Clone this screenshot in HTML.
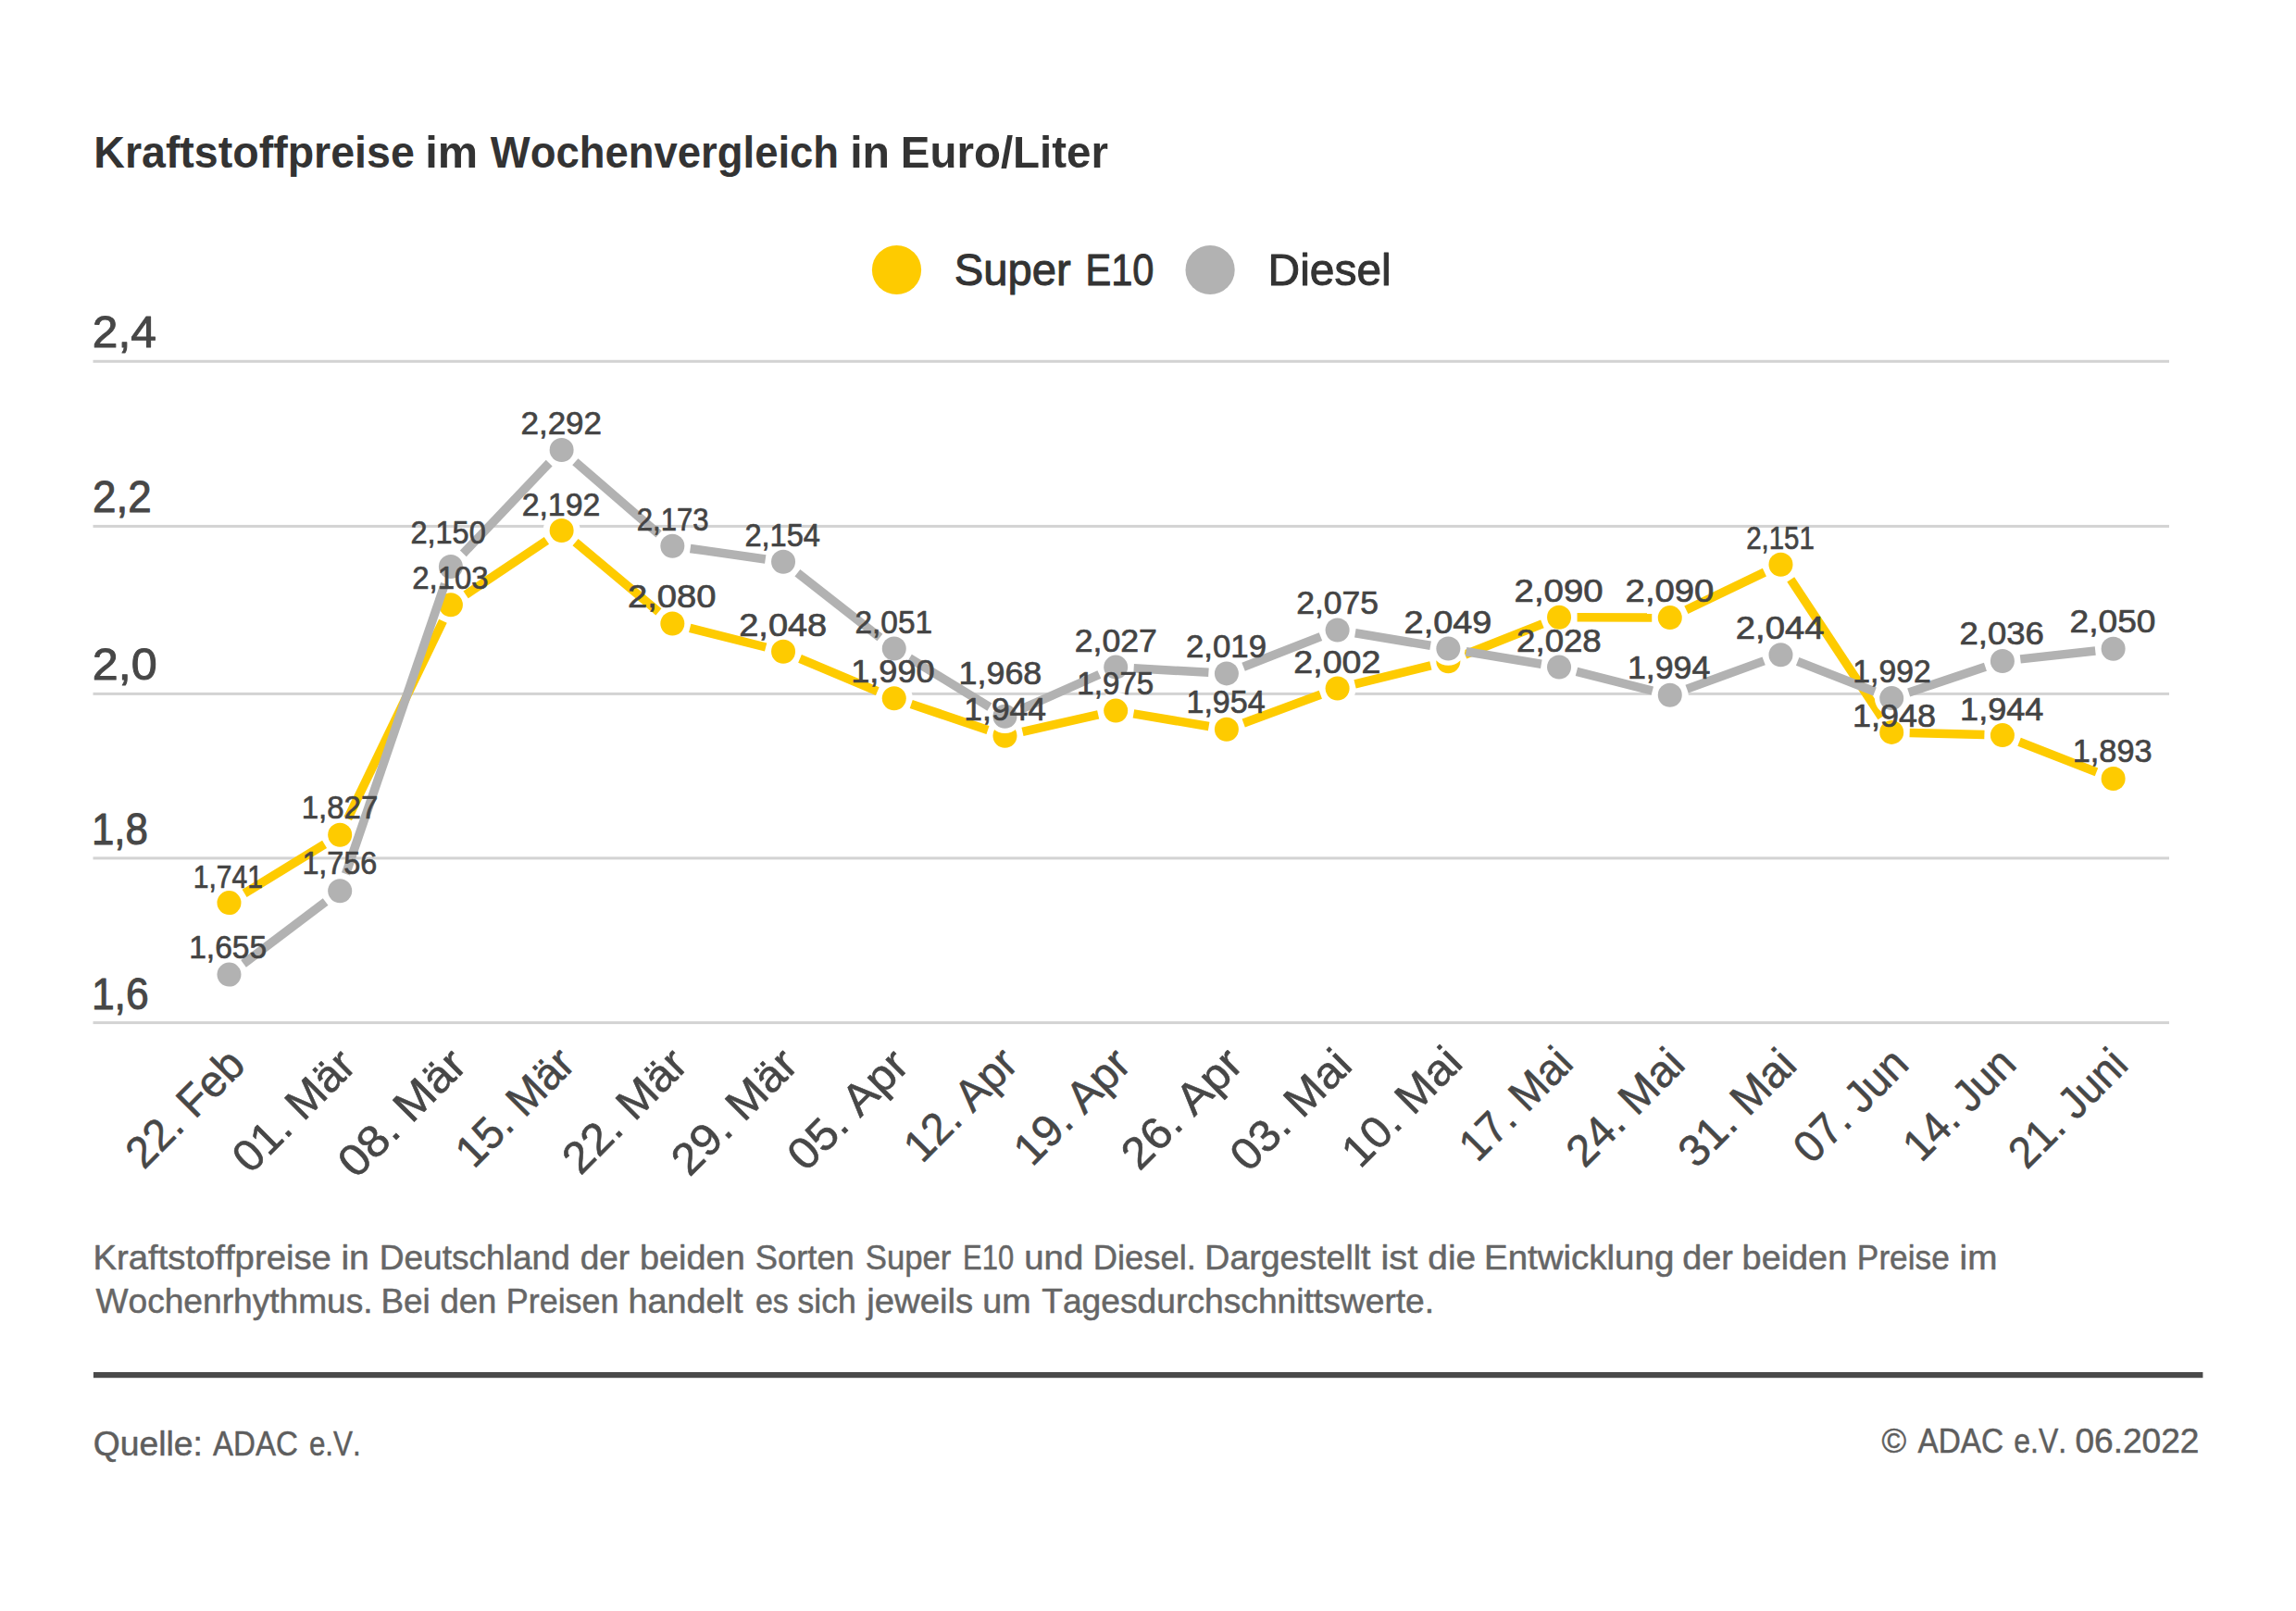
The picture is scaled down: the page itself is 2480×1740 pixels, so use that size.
<!DOCTYPE html>
<html lang="de"><head><meta charset="utf-8"><title>Kraftstoffpreise im Wochenvergleich</title>
<style>
html,body{margin:0;padding:0;background:#fff;}
body{width:2480px;height:1740px;overflow:hidden;}
svg{display:block;}
svg text{font-family:'Liberation Sans', Arial, sans-serif;font-kerning:none;}
</style></head>
<body>
<svg width="2480" height="1740" viewBox="0 0 2480 1740">
<rect width="2480" height="1740" fill="#fff"/>
<text x="101.29" y="181.00" font-size="49.00" font-weight="bold" fill="#333333" textLength="346.50" lengthAdjust="spacingAndGlyphs">Kraftstoffpreise</text>
<text x="459.29" y="181.00" font-size="49.00" font-weight="bold" fill="#333333" textLength="56.93" lengthAdjust="spacingAndGlyphs">im</text>
<text x="529.76" y="181.00" font-size="49.00" font-weight="bold" fill="#333333" textLength="376.36" lengthAdjust="spacingAndGlyphs">Wochenvergleich</text>
<text x="918.13" y="181.00" font-size="49.00" font-weight="bold" fill="#333333" textLength="42.86" lengthAdjust="spacingAndGlyphs">in</text>
<text x="972.83" y="181.00" font-size="49.00" font-weight="bold" fill="#333333" textLength="224.09" lengthAdjust="spacingAndGlyphs">Euro/Liter</text>
<circle cx="968.5" cy="291.5" r="26.6" fill="#FECB00"/>
<circle cx="1307.1" cy="291.5" r="26.6" fill="#B2B2B2"/>
<text x="1030.76" y="308.30" font-size="48.40" fill="#333333" stroke="#333333" stroke-width="1.0" stroke-linejoin="round" textLength="126.03" lengthAdjust="spacingAndGlyphs">Super</text>
<text x="1172.39" y="308.30" font-size="48.40" fill="#333333" stroke="#333333" stroke-width="1.0" stroke-linejoin="round" textLength="74.04" lengthAdjust="spacingAndGlyphs">E10</text>
<text x="1369.57" y="308.40" font-size="48.40" fill="#333333" stroke="#333333" stroke-width="1.0" stroke-linejoin="round" textLength="133.14" lengthAdjust="spacingAndGlyphs">Diesel</text>
<rect x="100.5" y="388.80" width="2242.5" height="3" fill="#D3D3D3"/>
<rect x="100.5" y="566.90" width="2242.5" height="3" fill="#D3D3D3"/>
<rect x="100.5" y="747.90" width="2242.5" height="3" fill="#D3D3D3"/>
<rect x="100.5" y="925.40" width="2242.5" height="3" fill="#D3D3D3"/>
<rect x="100.5" y="1103.10" width="2242.5" height="3" fill="#D3D3D3"/>
<text x="99.81" y="375.30" font-size="48.00" fill="#474747" stroke="#474747" stroke-width="1.0" stroke-linejoin="round" textLength="68.95" lengthAdjust="spacingAndGlyphs">2,4</text>
<text x="100.00" y="552.90" font-size="48.00" fill="#474747" stroke="#474747" stroke-width="1.0" stroke-linejoin="round" textLength="63.60" lengthAdjust="spacingAndGlyphs">2,2</text>
<text x="99.78" y="734.00" font-size="48.00" fill="#474747" stroke="#474747" stroke-width="1.0" stroke-linejoin="round" textLength="69.79" lengthAdjust="spacingAndGlyphs">2,0</text>
<text x="98.96" y="911.60" font-size="48.00" fill="#474747" stroke="#474747" stroke-width="1.0" stroke-linejoin="round" textLength="60.94" lengthAdjust="spacingAndGlyphs">1,8</text>
<text x="98.92" y="1089.50" font-size="48.00" fill="#474747" stroke="#474747" stroke-width="1.0" stroke-linejoin="round" textLength="61.73" lengthAdjust="spacingAndGlyphs">1,6</text>
<circle cx="247.47" cy="975.10" r="20.0" fill="#fff"/>
<circle cx="367.19" cy="901.70" r="20.0" fill="#fff"/>
<circle cx="486.90" cy="653.20" r="20.0" fill="#fff"/>
<circle cx="606.62" cy="573.00" r="20.0" fill="#fff"/>
<circle cx="726.33" cy="673.50" r="20.0" fill="#fff"/>
<circle cx="846.05" cy="703.80" r="20.0" fill="#fff"/>
<circle cx="965.76" cy="754.20" r="20.0" fill="#fff"/>
<circle cx="1085.47" cy="794.70" r="20.0" fill="#fff"/>
<circle cx="1205.19" cy="767.60" r="20.0" fill="#fff"/>
<circle cx="1324.90" cy="787.70" r="20.0" fill="#fff"/>
<circle cx="1444.62" cy="743.50" r="20.0" fill="#fff"/>
<circle cx="1564.34" cy="714.20" r="20.0" fill="#fff"/>
<circle cx="1684.05" cy="666.70" r="20.0" fill="#fff"/>
<circle cx="1803.77" cy="667.10" r="20.0" fill="#fff"/>
<circle cx="1923.48" cy="609.70" r="20.0" fill="#fff"/>
<circle cx="2043.20" cy="790.90" r="20.0" fill="#fff"/>
<circle cx="2162.91" cy="794.10" r="20.0" fill="#fff"/>
<circle cx="2282.62" cy="841.00" r="20.0" fill="#fff"/>
<circle cx="247.47" cy="1052.60" r="20.0" fill="#fff"/>
<circle cx="367.19" cy="962.30" r="20.0" fill="#fff"/>
<circle cx="486.90" cy="612.00" r="20.0" fill="#fff"/>
<circle cx="606.62" cy="486.00" r="20.0" fill="#fff"/>
<circle cx="726.33" cy="589.70" r="20.0" fill="#fff"/>
<circle cx="846.05" cy="606.70" r="20.0" fill="#fff"/>
<circle cx="965.76" cy="700.50" r="20.0" fill="#fff"/>
<circle cx="1085.47" cy="773.80" r="20.0" fill="#fff"/>
<circle cx="1205.19" cy="720.60" r="20.0" fill="#fff"/>
<circle cx="1324.90" cy="727.40" r="20.0" fill="#fff"/>
<circle cx="1444.62" cy="680.50" r="20.0" fill="#fff"/>
<circle cx="1564.34" cy="700.50" r="20.0" fill="#fff"/>
<circle cx="1684.05" cy="720.50" r="20.0" fill="#fff"/>
<circle cx="1803.77" cy="750.80" r="20.0" fill="#fff"/>
<circle cx="1923.48" cy="707.20" r="20.0" fill="#fff"/>
<circle cx="2043.20" cy="754.10" r="20.0" fill="#fff"/>
<circle cx="2162.91" cy="714.00" r="20.0" fill="#fff"/>
<circle cx="2282.62" cy="700.80" r="20.0" fill="#fff"/>
<line x1="264.09" y1="964.91" x2="350.56" y2="911.89" stroke="#FECB00" stroke-width="9.5"/>
<line x1="375.65" y1="884.13" x2="478.44" y2="670.77" stroke="#FECB00" stroke-width="9.5"/>
<line x1="503.10" y1="642.35" x2="590.41" y2="583.85" stroke="#FECB00" stroke-width="9.5"/>
<line x1="621.55" y1="585.54" x2="711.40" y2="660.96" stroke="#FECB00" stroke-width="9.5"/>
<line x1="745.23" y1="678.28" x2="827.14" y2="699.02" stroke="#FECB00" stroke-width="9.5"/>
<line x1="864.02" y1="711.37" x2="947.79" y2="746.63" stroke="#FECB00" stroke-width="9.5"/>
<line x1="984.23" y1="760.45" x2="1067.00" y2="788.45" stroke="#FECB00" stroke-width="9.5"/>
<line x1="1104.49" y1="790.39" x2="1186.17" y2="771.91" stroke="#FECB00" stroke-width="9.5"/>
<line x1="1224.42" y1="770.83" x2="1305.67" y2="784.47" stroke="#FECB00" stroke-width="9.5"/>
<line x1="1343.20" y1="780.95" x2="1426.33" y2="750.25" stroke="#FECB00" stroke-width="9.5"/>
<line x1="1463.56" y1="738.86" x2="1545.39" y2="718.84" stroke="#FECB00" stroke-width="9.5"/>
<line x1="1582.46" y1="707.01" x2="1665.92" y2="673.89" stroke="#FECB00" stroke-width="9.5"/>
<line x1="1703.55" y1="666.77" x2="1784.27" y2="667.03" stroke="#FECB00" stroke-width="9.5"/>
<line x1="1821.35" y1="658.67" x2="1905.90" y2="618.13" stroke="#FECB00" stroke-width="9.5"/>
<line x1="1934.23" y1="625.97" x2="2032.45" y2="774.63" stroke="#FECB00" stroke-width="9.5"/>
<line x1="2062.69" y1="791.42" x2="2143.42" y2="793.58" stroke="#FECB00" stroke-width="9.5"/>
<line x1="2181.07" y1="801.21" x2="2264.47" y2="833.89" stroke="#FECB00" stroke-width="9.5"/>
<circle cx="247.47" cy="975.10" r="18.3" fill="#fff"/>
<circle cx="247.47" cy="975.10" r="13.0" fill="#FECB00"/>
<circle cx="367.19" cy="901.70" r="18.3" fill="#fff"/>
<circle cx="367.19" cy="901.70" r="13.0" fill="#FECB00"/>
<circle cx="486.90" cy="653.20" r="18.3" fill="#fff"/>
<circle cx="486.90" cy="653.20" r="13.0" fill="#FECB00"/>
<circle cx="606.62" cy="573.00" r="18.3" fill="#fff"/>
<circle cx="606.62" cy="573.00" r="13.0" fill="#FECB00"/>
<circle cx="726.33" cy="673.50" r="18.3" fill="#fff"/>
<circle cx="726.33" cy="673.50" r="13.0" fill="#FECB00"/>
<circle cx="846.05" cy="703.80" r="18.3" fill="#fff"/>
<circle cx="846.05" cy="703.80" r="13.0" fill="#FECB00"/>
<circle cx="965.76" cy="754.20" r="18.3" fill="#fff"/>
<circle cx="965.76" cy="754.20" r="13.0" fill="#FECB00"/>
<circle cx="1085.47" cy="794.70" r="18.3" fill="#fff"/>
<circle cx="1085.47" cy="794.70" r="13.0" fill="#FECB00"/>
<circle cx="1205.19" cy="767.60" r="18.3" fill="#fff"/>
<circle cx="1205.19" cy="767.60" r="13.0" fill="#FECB00"/>
<circle cx="1324.90" cy="787.70" r="18.3" fill="#fff"/>
<circle cx="1324.90" cy="787.70" r="13.0" fill="#FECB00"/>
<circle cx="1444.62" cy="743.50" r="18.3" fill="#fff"/>
<circle cx="1444.62" cy="743.50" r="13.0" fill="#FECB00"/>
<circle cx="1564.34" cy="714.20" r="18.3" fill="#fff"/>
<circle cx="1564.34" cy="714.20" r="13.0" fill="#FECB00"/>
<circle cx="1684.05" cy="666.70" r="18.3" fill="#fff"/>
<circle cx="1684.05" cy="666.70" r="13.0" fill="#FECB00"/>
<circle cx="1803.77" cy="667.10" r="18.3" fill="#fff"/>
<circle cx="1803.77" cy="667.10" r="13.0" fill="#FECB00"/>
<circle cx="1923.48" cy="609.70" r="18.3" fill="#fff"/>
<circle cx="1923.48" cy="609.70" r="13.0" fill="#FECB00"/>
<circle cx="2043.20" cy="790.90" r="18.3" fill="#fff"/>
<circle cx="2043.20" cy="790.90" r="13.0" fill="#FECB00"/>
<circle cx="2162.91" cy="794.10" r="18.3" fill="#fff"/>
<circle cx="2162.91" cy="794.10" r="13.0" fill="#FECB00"/>
<circle cx="2282.62" cy="841.00" r="18.3" fill="#fff"/>
<circle cx="2282.62" cy="841.00" r="13.0" fill="#FECB00"/>
<line x1="263.04" y1="1040.86" x2="351.62" y2="974.04" stroke="#B2B2B2" stroke-width="9.5"/>
<line x1="373.49" y1="943.85" x2="480.59" y2="630.45" stroke="#B2B2B2" stroke-width="9.5"/>
<line x1="500.33" y1="597.86" x2="593.18" y2="500.14" stroke="#B2B2B2" stroke-width="9.5"/>
<line x1="621.35" y1="498.77" x2="711.59" y2="576.93" stroke="#B2B2B2" stroke-width="9.5"/>
<line x1="745.64" y1="592.44" x2="826.74" y2="603.96" stroke="#B2B2B2" stroke-width="9.5"/>
<line x1="861.39" y1="618.73" x2="950.41" y2="688.47" stroke="#B2B2B2" stroke-width="9.5"/>
<line x1="982.39" y1="710.68" x2="1068.84" y2="763.62" stroke="#B2B2B2" stroke-width="9.5"/>
<line x1="1103.29" y1="765.88" x2="1187.37" y2="728.52" stroke="#B2B2B2" stroke-width="9.5"/>
<line x1="1224.66" y1="721.71" x2="1305.44" y2="726.29" stroke="#B2B2B2" stroke-width="9.5"/>
<line x1="1343.06" y1="720.29" x2="1426.46" y2="687.61" stroke="#B2B2B2" stroke-width="9.5"/>
<line x1="1463.85" y1="683.71" x2="1545.10" y2="697.29" stroke="#B2B2B2" stroke-width="9.5"/>
<line x1="1583.57" y1="703.71" x2="1664.82" y2="717.29" stroke="#B2B2B2" stroke-width="9.5"/>
<line x1="1702.95" y1="725.28" x2="1784.86" y2="746.02" stroke="#B2B2B2" stroke-width="9.5"/>
<line x1="1822.09" y1="744.13" x2="1905.16" y2="713.87" stroke="#B2B2B2" stroke-width="9.5"/>
<line x1="1941.64" y1="714.31" x2="2025.04" y2="746.99" stroke="#B2B2B2" stroke-width="9.5"/>
<line x1="2061.69" y1="747.91" x2="2144.42" y2="720.19" stroke="#B2B2B2" stroke-width="9.5"/>
<line x1="2182.29" y1="711.86" x2="2263.24" y2="702.94" stroke="#B2B2B2" stroke-width="9.5"/>
<circle cx="247.47" cy="1052.60" r="18.3" fill="#fff"/>
<circle cx="247.47" cy="1052.60" r="13.0" fill="#B2B2B2"/>
<circle cx="367.19" cy="962.30" r="18.3" fill="#fff"/>
<circle cx="367.19" cy="962.30" r="13.0" fill="#B2B2B2"/>
<circle cx="486.90" cy="612.00" r="18.3" fill="#fff"/>
<circle cx="486.90" cy="612.00" r="13.0" fill="#B2B2B2"/>
<circle cx="606.62" cy="486.00" r="18.3" fill="#fff"/>
<circle cx="606.62" cy="486.00" r="13.0" fill="#B2B2B2"/>
<circle cx="726.33" cy="589.70" r="18.3" fill="#fff"/>
<circle cx="726.33" cy="589.70" r="13.0" fill="#B2B2B2"/>
<circle cx="846.05" cy="606.70" r="18.3" fill="#fff"/>
<circle cx="846.05" cy="606.70" r="13.0" fill="#B2B2B2"/>
<circle cx="965.76" cy="700.50" r="18.3" fill="#fff"/>
<circle cx="965.76" cy="700.50" r="13.0" fill="#B2B2B2"/>
<circle cx="1085.47" cy="773.80" r="18.3" fill="#fff"/>
<circle cx="1085.47" cy="773.80" r="13.0" fill="#B2B2B2"/>
<circle cx="1205.19" cy="720.60" r="18.3" fill="#fff"/>
<circle cx="1205.19" cy="720.60" r="13.0" fill="#B2B2B2"/>
<circle cx="1324.90" cy="727.40" r="18.3" fill="#fff"/>
<circle cx="1324.90" cy="727.40" r="13.0" fill="#B2B2B2"/>
<circle cx="1444.62" cy="680.50" r="18.3" fill="#fff"/>
<circle cx="1444.62" cy="680.50" r="13.0" fill="#B2B2B2"/>
<circle cx="1564.34" cy="700.50" r="18.3" fill="#fff"/>
<circle cx="1564.34" cy="700.50" r="13.0" fill="#B2B2B2"/>
<circle cx="1684.05" cy="720.50" r="18.3" fill="#fff"/>
<circle cx="1684.05" cy="720.50" r="13.0" fill="#B2B2B2"/>
<circle cx="1803.77" cy="750.80" r="18.3" fill="#fff"/>
<circle cx="1803.77" cy="750.80" r="13.0" fill="#B2B2B2"/>
<circle cx="1923.48" cy="707.20" r="18.3" fill="#fff"/>
<circle cx="1923.48" cy="707.20" r="13.0" fill="#B2B2B2"/>
<circle cx="2043.20" cy="754.10" r="18.3" fill="#fff"/>
<circle cx="2043.20" cy="754.10" r="13.0" fill="#B2B2B2"/>
<circle cx="2162.91" cy="714.00" r="18.3" fill="#fff"/>
<circle cx="2162.91" cy="714.00" r="13.0" fill="#B2B2B2"/>
<circle cx="2282.62" cy="700.80" r="18.3" fill="#fff"/>
<circle cx="2282.62" cy="700.80" r="13.0" fill="#B2B2B2"/>
<text x="208.76" y="958.50" font-size="35.10" fill="#444444" stroke="#444444" stroke-width="0.7" stroke-linejoin="round" textLength="75.15" lengthAdjust="spacingAndGlyphs">1,741</text>
<text x="204.19" y="1034.90" font-size="35.10" fill="#444444" stroke="#444444" stroke-width="0.7" stroke-linejoin="round" textLength="83.96" lengthAdjust="spacingAndGlyphs">1,655</text>
<text x="325.63" y="884.30" font-size="35.10" fill="#444444" stroke="#444444" stroke-width="0.7" stroke-linejoin="round" textLength="82.68" lengthAdjust="spacingAndGlyphs">1,827</text>
<text x="326.38" y="944.20" font-size="35.10" fill="#444444" stroke="#444444" stroke-width="0.7" stroke-linejoin="round" textLength="80.99" lengthAdjust="spacingAndGlyphs">1,756</text>
<text x="443.42" y="586.70" font-size="35.10" fill="#444444" stroke="#444444" stroke-width="0.7" stroke-linejoin="round" textLength="81.30" lengthAdjust="spacingAndGlyphs">2,150</text>
<text x="445.29" y="636.00" font-size="35.10" fill="#444444" stroke="#444444" stroke-width="0.7" stroke-linejoin="round" textLength="82.40" lengthAdjust="spacingAndGlyphs">2,103</text>
<text x="562.49" y="469.30" font-size="35.10" fill="#444444" stroke="#444444" stroke-width="0.7" stroke-linejoin="round" textLength="87.52" lengthAdjust="spacingAndGlyphs">2,292</text>
<text x="563.65" y="556.90" font-size="35.10" fill="#444444" stroke="#444444" stroke-width="0.7" stroke-linejoin="round" textLength="84.70" lengthAdjust="spacingAndGlyphs">2,192</text>
<text x="687.79" y="572.70" font-size="35.10" fill="#444444" stroke="#444444" stroke-width="0.7" stroke-linejoin="round" textLength="77.73" lengthAdjust="spacingAndGlyphs">2,173</text>
<text x="678.03" y="656.30" font-size="35.10" fill="#444444" stroke="#444444" stroke-width="0.7" stroke-linejoin="round" textLength="95.51" lengthAdjust="spacingAndGlyphs">2,080</text>
<text x="804.41" y="589.70" font-size="35.10" fill="#444444" stroke="#444444" stroke-width="0.7" stroke-linejoin="round" textLength="81.60" lengthAdjust="spacingAndGlyphs">2,154</text>
<text x="798.24" y="687.00" font-size="35.10" fill="#444444" stroke="#444444" stroke-width="0.7" stroke-linejoin="round" textLength="94.96" lengthAdjust="spacingAndGlyphs">2,048</text>
<text x="923.47" y="683.80" font-size="35.10" fill="#444444" stroke="#444444" stroke-width="0.7" stroke-linejoin="round" textLength="83.61" lengthAdjust="spacingAndGlyphs">2,051</text>
<text x="919.20" y="737.30" font-size="35.10" fill="#444444" stroke="#444444" stroke-width="0.7" stroke-linejoin="round" textLength="90.36" lengthAdjust="spacingAndGlyphs">1,990</text>
<text x="1035.52" y="738.70" font-size="35.10" fill="#444444" stroke="#444444" stroke-width="0.7" stroke-linejoin="round" textLength="89.79" lengthAdjust="spacingAndGlyphs">1,968</text>
<text x="1041.35" y="777.90" font-size="35.10" fill="#444444" stroke="#444444" stroke-width="0.7" stroke-linejoin="round" textLength="88.64" lengthAdjust="spacingAndGlyphs">1,944</text>
<text x="1160.76" y="703.60" font-size="35.10" fill="#444444" stroke="#444444" stroke-width="0.7" stroke-linejoin="round" textLength="89.18" lengthAdjust="spacingAndGlyphs">2,027</text>
<text x="1163.33" y="750.00" font-size="35.10" fill="#444444" stroke="#444444" stroke-width="0.7" stroke-linejoin="round" textLength="82.92" lengthAdjust="spacingAndGlyphs">1,975</text>
<text x="1281.00" y="710.10" font-size="35.10" fill="#444444" stroke="#444444" stroke-width="0.7" stroke-linejoin="round" textLength="86.99" lengthAdjust="spacingAndGlyphs">2,019</text>
<text x="1281.46" y="770.20" font-size="35.10" fill="#444444" stroke="#444444" stroke-width="0.7" stroke-linejoin="round" textLength="85.19" lengthAdjust="spacingAndGlyphs">1,954</text>
<text x="1400.17" y="663.10" font-size="35.10" fill="#444444" stroke="#444444" stroke-width="0.7" stroke-linejoin="round" textLength="88.77" lengthAdjust="spacingAndGlyphs">2,075</text>
<text x="1397.36" y="727.10" font-size="35.10" fill="#444444" stroke="#444444" stroke-width="0.7" stroke-linejoin="round" textLength="93.98" lengthAdjust="spacingAndGlyphs">2,002</text>
<text x="1516.64" y="683.80" font-size="35.10" fill="#444444" stroke="#444444" stroke-width="0.7" stroke-linejoin="round" textLength="94.80" lengthAdjust="spacingAndGlyphs">2,049</text>
<text x="1635.62" y="649.70" font-size="35.10" fill="#444444" stroke="#444444" stroke-width="0.7" stroke-linejoin="round" textLength="96.03" lengthAdjust="spacingAndGlyphs">2,090</text>
<text x="1638.11" y="703.50" font-size="35.10" fill="#444444" stroke="#444444" stroke-width="0.7" stroke-linejoin="round" textLength="91.63" lengthAdjust="spacingAndGlyphs">2,028</text>
<text x="1755.63" y="649.70" font-size="35.10" fill="#444444" stroke="#444444" stroke-width="0.7" stroke-linejoin="round" textLength="95.72" lengthAdjust="spacingAndGlyphs">2,090</text>
<text x="1757.93" y="733.30" font-size="35.10" fill="#444444" stroke="#444444" stroke-width="0.7" stroke-linejoin="round" textLength="89.37" lengthAdjust="spacingAndGlyphs">1,994</text>
<text x="1886.17" y="592.90" font-size="35.10" fill="#444444" stroke="#444444" stroke-width="0.7" stroke-linejoin="round" textLength="73.62" lengthAdjust="spacingAndGlyphs">2,151</text>
<text x="1874.83" y="690.10" font-size="35.10" fill="#444444" stroke="#444444" stroke-width="0.7" stroke-linejoin="round" textLength="95.54" lengthAdjust="spacingAndGlyphs">2,044</text>
<text x="2001.28" y="737.20" font-size="35.10" fill="#444444" stroke="#444444" stroke-width="0.7" stroke-linejoin="round" textLength="84.36" lengthAdjust="spacingAndGlyphs">1,992</text>
<text x="2001.11" y="785.00" font-size="35.10" fill="#444444" stroke="#444444" stroke-width="0.7" stroke-linejoin="round" textLength="89.90" lengthAdjust="spacingAndGlyphs">1,948</text>
<text x="2116.51" y="696.40" font-size="35.10" fill="#444444" stroke="#444444" stroke-width="0.7" stroke-linejoin="round" textLength="91.34" lengthAdjust="spacingAndGlyphs">2,036</text>
<text x="2117.10" y="778.00" font-size="35.10" fill="#444444" stroke="#444444" stroke-width="0.7" stroke-linejoin="round" textLength="90.20" lengthAdjust="spacingAndGlyphs">1,944</text>
<text x="2235.58" y="683.10" font-size="35.10" fill="#444444" stroke="#444444" stroke-width="0.7" stroke-linejoin="round" textLength="92.81" lengthAdjust="spacingAndGlyphs">2,050</text>
<text x="2238.74" y="823.40" font-size="35.10" fill="#444444" stroke="#444444" stroke-width="0.7" stroke-linejoin="round" textLength="85.82" lengthAdjust="spacingAndGlyphs">1,893</text>
<text x="267.10" y="1152.80" font-size="48.0" fill="#474747" stroke="#474747" stroke-width="0.6" stroke-linejoin="round" text-anchor="end" textLength="157.78" lengthAdjust="spacingAndGlyphs" transform="rotate(-45 267.10 1152.80)">22. Feb</text>
<text x="386.75" y="1153.00" font-size="48.0" fill="#474747" stroke="#474747" stroke-width="0.6" stroke-linejoin="round" text-anchor="end" textLength="164.14" lengthAdjust="spacingAndGlyphs" transform="rotate(-45 386.75 1153.00)">01. Mär</text>
<text x="506.35" y="1152.65" font-size="48.0" fill="#474747" stroke="#474747" stroke-width="0.6" stroke-linejoin="round" text-anchor="end" textLength="171.84" lengthAdjust="spacingAndGlyphs" transform="rotate(-45 506.35 1152.65)">08. Mär</text>
<text x="623.35" y="1151.50" font-size="48.0" fill="#474747" stroke="#474747" stroke-width="0.6" stroke-linejoin="round" text-anchor="end" textLength="157.94" lengthAdjust="spacingAndGlyphs" transform="rotate(-45 623.35 1151.50)">15. Mär</text>
<text x="745.25" y="1152.20" font-size="48.0" fill="#474747" stroke="#474747" stroke-width="0.6" stroke-linejoin="round" text-anchor="end" textLength="167.24" lengthAdjust="spacingAndGlyphs" transform="rotate(-45 745.25 1152.20)">22. Mär</text>
<text x="864.20" y="1152.35" font-size="48.0" fill="#474747" stroke="#474747" stroke-width="0.6" stroke-linejoin="round" text-anchor="end" textLength="169.04" lengthAdjust="spacingAndGlyphs" transform="rotate(-45 864.20 1152.35)">29. Mär</text>
<text x="983.95" y="1153.00" font-size="48.0" fill="#474747" stroke="#474747" stroke-width="0.6" stroke-linejoin="round" text-anchor="end" textLength="160.72" lengthAdjust="spacingAndGlyphs" transform="rotate(-45 983.95 1153.00)">05. Apr</text>
<text x="1101.75" y="1151.60" font-size="48.0" fill="#474747" stroke="#474747" stroke-width="0.6" stroke-linejoin="round" text-anchor="end" textLength="149.62" lengthAdjust="spacingAndGlyphs" transform="rotate(-45 1101.75 1151.60)">12. Apr</text>
<text x="1223.67" y="1152.12" font-size="48.0" fill="#474747" stroke="#474747" stroke-width="0.6" stroke-linejoin="round" text-anchor="end" textLength="153.92" lengthAdjust="spacingAndGlyphs" transform="rotate(-45 1223.67 1152.12)">19. Apr</text>
<text x="1344.85" y="1151.70" font-size="48.0" fill="#474747" stroke="#474747" stroke-width="0.6" stroke-linejoin="round" text-anchor="end" textLength="161.22" lengthAdjust="spacingAndGlyphs" transform="rotate(-45 1344.85 1151.70)">26. Apr</text>
<text x="1462.75" y="1153.00" font-size="48.0" fill="#474747" stroke="#474747" stroke-width="0.6" stroke-linejoin="round" text-anchor="end" textLength="161.59" lengthAdjust="spacingAndGlyphs" transform="rotate(-45 1462.75 1153.00)">03. Mai</text>
<text x="1582.00" y="1150.30" font-size="48.0" fill="#474747" stroke="#474747" stroke-width="0.6" stroke-linejoin="round" text-anchor="end" textLength="159.79" lengthAdjust="spacingAndGlyphs" transform="rotate(-45 1582.00 1150.30)">10. Mai</text>
<text x="1701.50" y="1150.90" font-size="48.0" fill="#474747" stroke="#474747" stroke-width="0.6" stroke-linejoin="round" text-anchor="end" textLength="149.49" lengthAdjust="spacingAndGlyphs" transform="rotate(-45 1701.50 1150.90)">17. Mai</text>
<text x="1822.18" y="1152.12" font-size="48.0" fill="#474747" stroke="#474747" stroke-width="0.6" stroke-linejoin="round" text-anchor="end" textLength="156.39" lengthAdjust="spacingAndGlyphs" transform="rotate(-45 1822.18 1152.12)">24. Mai</text>
<text x="1942.90" y="1152.70" font-size="48.0" fill="#474747" stroke="#474747" stroke-width="0.6" stroke-linejoin="round" text-anchor="end" textLength="156.29" lengthAdjust="spacingAndGlyphs" transform="rotate(-45 1942.90 1152.70)">31. Mai</text>
<text x="2063.85" y="1151.95" font-size="48.0" fill="#474747" stroke="#474747" stroke-width="0.6" stroke-linejoin="round" text-anchor="end" textLength="150.93" lengthAdjust="spacingAndGlyphs" transform="rotate(-45 2063.85 1151.95)">07. Jun</text>
<text x="2180.10" y="1151.70" font-size="48.0" fill="#474747" stroke="#474747" stroke-width="0.6" stroke-linejoin="round" text-anchor="end" textLength="148.13" lengthAdjust="spacingAndGlyphs" transform="rotate(-45 2180.10 1151.70)">14. Jun</text>
<text x="2300.95" y="1152.50" font-size="48.0" fill="#474747" stroke="#474747" stroke-width="0.6" stroke-linejoin="round" text-anchor="end" textLength="157.95" lengthAdjust="spacingAndGlyphs" transform="rotate(-45 2300.95 1152.50)">21. Juni</text>
<text x="100.51" y="1371.20" font-size="36.80" fill="#666666" stroke="#666666" stroke-width="0.5" stroke-linejoin="round" textLength="257.34" lengthAdjust="spacingAndGlyphs">Kraftstoffpreise</text>
<text x="368.43" y="1371.20" font-size="36.80" fill="#666666" stroke="#666666" stroke-width="0.5" stroke-linejoin="round" textLength="30.46" lengthAdjust="spacingAndGlyphs">in</text>
<text x="409.71" y="1371.20" font-size="36.80" fill="#666666" stroke="#666666" stroke-width="0.5" stroke-linejoin="round" textLength="206.13" lengthAdjust="spacingAndGlyphs">Deutschland</text>
<text x="626.70" y="1371.20" font-size="36.80" fill="#666666" stroke="#666666" stroke-width="0.5" stroke-linejoin="round" textLength="53.47" lengthAdjust="spacingAndGlyphs">der</text>
<text x="691.01" y="1371.20" font-size="36.80" fill="#666666" stroke="#666666" stroke-width="0.5" stroke-linejoin="round" textLength="113.70" lengthAdjust="spacingAndGlyphs">beiden</text>
<text x="815.80" y="1371.20" font-size="36.80" fill="#666666" stroke="#666666" stroke-width="0.5" stroke-linejoin="round" textLength="107.01" lengthAdjust="spacingAndGlyphs">Sorten</text>
<text x="934.77" y="1371.20" font-size="36.80" fill="#666666" stroke="#666666" stroke-width="0.5" stroke-linejoin="round" textLength="92.65" lengthAdjust="spacingAndGlyphs">Super</text>
<text x="1040.11" y="1371.20" font-size="36.80" fill="#666666" stroke="#666666" stroke-width="0.5" stroke-linejoin="round" textLength="55.05" lengthAdjust="spacingAndGlyphs">E10</text>
<text x="1106.26" y="1371.20" font-size="36.80" fill="#666666" stroke="#666666" stroke-width="0.5" stroke-linejoin="round" textLength="63.96" lengthAdjust="spacingAndGlyphs">und</text>
<text x="1180.67" y="1371.20" font-size="36.80" fill="#666666" stroke="#666666" stroke-width="0.5" stroke-linejoin="round" textLength="111.21" lengthAdjust="spacingAndGlyphs">Diesel.</text>
<text x="1301.38" y="1371.20" font-size="36.80" fill="#666666" stroke="#666666" stroke-width="0.5" stroke-linejoin="round" textLength="179.15" lengthAdjust="spacingAndGlyphs">Dargestellt</text>
<text x="1491.48" y="1371.20" font-size="36.80" fill="#666666" stroke="#666666" stroke-width="0.5" stroke-linejoin="round" textLength="39.86" lengthAdjust="spacingAndGlyphs">ist</text>
<text x="1542.32" y="1371.20" font-size="36.80" fill="#666666" stroke="#666666" stroke-width="0.5" stroke-linejoin="round" textLength="51.75" lengthAdjust="spacingAndGlyphs">die</text>
<text x="1602.99" y="1371.20" font-size="36.80" fill="#666666" stroke="#666666" stroke-width="0.5" stroke-linejoin="round" textLength="205.34" lengthAdjust="spacingAndGlyphs">Entwicklung</text>
<text x="1817.27" y="1371.20" font-size="36.80" fill="#666666" stroke="#666666" stroke-width="0.5" stroke-linejoin="round" textLength="54.41" lengthAdjust="spacingAndGlyphs">der</text>
<text x="1881.61" y="1371.20" font-size="36.80" fill="#666666" stroke="#666666" stroke-width="0.5" stroke-linejoin="round" textLength="113.59" lengthAdjust="spacingAndGlyphs">beiden</text>
<text x="2005.86" y="1371.20" font-size="36.80" fill="#666666" stroke="#666666" stroke-width="0.5" stroke-linejoin="round" textLength="99.96" lengthAdjust="spacingAndGlyphs">Preise</text>
<text x="2116.56" y="1371.20" font-size="36.80" fill="#666666" stroke="#666666" stroke-width="0.5" stroke-linejoin="round" textLength="40.84" lengthAdjust="spacingAndGlyphs">im</text>
<text x="103.49" y="1417.80" font-size="36.80" fill="#666666" stroke="#666666" stroke-width="0.5" stroke-linejoin="round" textLength="299.15" lengthAdjust="spacingAndGlyphs">Wochenrhythmus.</text>
<text x="411.42" y="1417.80" font-size="36.80" fill="#666666" stroke="#666666" stroke-width="0.5" stroke-linejoin="round" textLength="53.31" lengthAdjust="spacingAndGlyphs">Bei</text>
<text x="475.42" y="1417.80" font-size="36.80" fill="#666666" stroke="#666666" stroke-width="0.5" stroke-linejoin="round" textLength="60.90" lengthAdjust="spacingAndGlyphs">den</text>
<text x="546.81" y="1417.80" font-size="36.80" fill="#666666" stroke="#666666" stroke-width="0.5" stroke-linejoin="round" textLength="121.67" lengthAdjust="spacingAndGlyphs">Preisen</text>
<text x="678.43" y="1417.80" font-size="36.80" fill="#666666" stroke="#666666" stroke-width="0.5" stroke-linejoin="round" textLength="124.10" lengthAdjust="spacingAndGlyphs">handelt</text>
<text x="816.01" y="1417.80" font-size="36.80" fill="#666666" stroke="#666666" stroke-width="0.5" stroke-linejoin="round" textLength="35.76" lengthAdjust="spacingAndGlyphs">es</text>
<text x="861.56" y="1417.80" font-size="36.80" fill="#666666" stroke="#666666" stroke-width="0.5" stroke-linejoin="round" textLength="63.20" lengthAdjust="spacingAndGlyphs">sich</text>
<text x="936.29" y="1417.80" font-size="36.80" fill="#666666" stroke="#666666" stroke-width="0.5" stroke-linejoin="round" textLength="114.95" lengthAdjust="spacingAndGlyphs">jeweils</text>
<text x="1061.30" y="1417.80" font-size="36.80" fill="#666666" stroke="#666666" stroke-width="0.5" stroke-linejoin="round" textLength="52.33" lengthAdjust="spacingAndGlyphs">um</text>
<text x="1125.21" y="1417.80" font-size="36.80" fill="#666666" stroke="#666666" stroke-width="0.5" stroke-linejoin="round" textLength="423.93" lengthAdjust="spacingAndGlyphs">Tagesdurchschnittswerte.</text>
<rect x="100.9" y="1482.0" width="2278.5" height="6.2" fill="#4A4A4A"/>
<text x="100.89" y="1572.10" font-size="36.20" fill="#5E5E5E" stroke="#5E5E5E" stroke-width="0.5" stroke-linejoin="round" textLength="118.07" lengthAdjust="spacingAndGlyphs">Quelle:</text>
<text x="230.09" y="1572.10" font-size="36.20" fill="#5E5E5E" stroke="#5E5E5E" stroke-width="0.5" stroke-linejoin="round" textLength="91.82" lengthAdjust="spacingAndGlyphs">ADAC</text>
<text x="333.92" y="1572.10" font-size="36.20" fill="#5E5E5E" stroke="#5E5E5E" stroke-width="0.5" stroke-linejoin="round" textLength="55.80" lengthAdjust="spacingAndGlyphs">e.V.</text>
<text x="2032.60" y="1568.80" font-size="36.20" fill="#5E5E5E" stroke="#5E5E5E" stroke-width="0.5" stroke-linejoin="round" textLength="26.61" lengthAdjust="spacingAndGlyphs">©</text>
<text x="2071.48" y="1568.80" font-size="36.20" fill="#5E5E5E" stroke="#5E5E5E" stroke-width="0.5" stroke-linejoin="round" textLength="92.74" lengthAdjust="spacingAndGlyphs">ADAC</text>
<text x="2175.29" y="1568.80" font-size="36.20" fill="#5E5E5E" stroke="#5E5E5E" stroke-width="0.5" stroke-linejoin="round" textLength="56.77" lengthAdjust="spacingAndGlyphs">e.V.</text>
<text x="2241.40" y="1568.80" font-size="36.20" fill="#5E5E5E" stroke="#5E5E5E" stroke-width="0.5" stroke-linejoin="round" textLength="134.12" lengthAdjust="spacingAndGlyphs">06.2022</text>
</svg>
</body></html>
